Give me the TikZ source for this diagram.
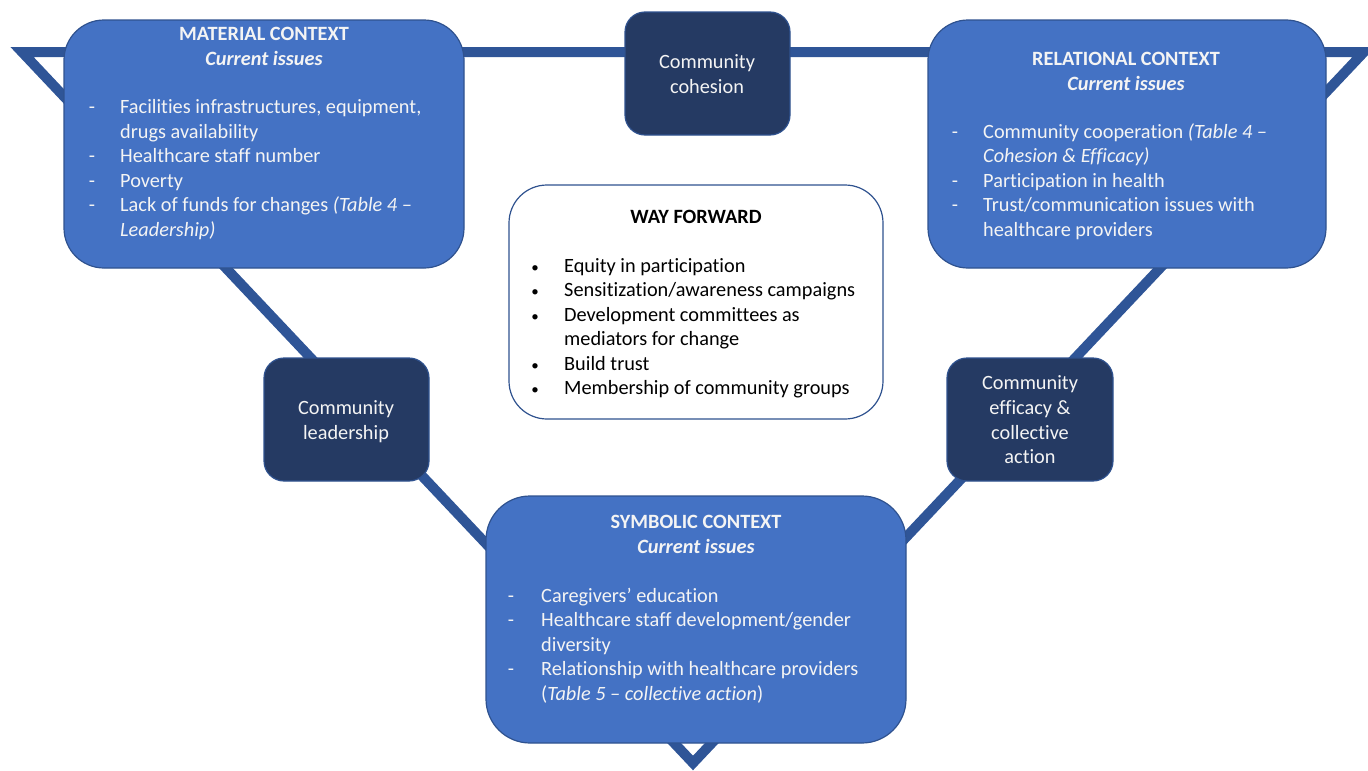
\documentclass[tikz,border=0pt]{standalone}
\usepackage{fontspec}
\setmainfont{Carlito}[Ligatures=NoCommon]
\definecolor{triblue}{HTML}{2F5597}
\definecolor{boxfill}{HTML}{4472C4}
\definecolor{boxline}{HTML}{2F528F}
\definecolor{darkfill}{HTML}{253A63}
\definecolor{txtwhite}{HTML}{F4F4F4}
\begin{document}
\begin{tikzpicture}[x=1pt,y=-1pt,
  tri/.style={draw=triblue,line width=10pt,line join=miter},
  ctx/.style={draw=boxline,fill=boxfill,line width=1.2pt,rounded corners=40pt},
  dark/.style={draw=boxline,fill=darkfill,line width=1.2pt,rounded corners=20pt},
  way/.style={draw=boxline,fill=white,line width=1.2pt,rounded corners=38pt},
  txt/.style={font=\fontsize{20.3}{24.5}\selectfont,text=txtwhite,inner sep=0pt},
  btxt/.style={font=\fontsize{20.3}{24.5}\selectfont,text=black,inner sep=0pt},
  ln/.style={txt,anchor=base west},
  bl/.style={btxt,anchor=base west},
  ttl/.style={txt,anchor=base,font=\fontsize{20.3}{24.5}\selectfont\bfseries},
  dsh/.style={txt,anchor=base},
  dot/.style={btxt,anchor=base,font=\fontsize{15}{18}\selectfont},
  dtxt/.style={txt,anchor=base}]
\useasboundingbox (0,0) rectangle (1368,771);
% triangle
\coordinate (tl) at (22,52);
\coordinate (tr) at (1364,52);
\coordinate (ap) at (693,763);
\draw[tri] (tl) -- (tr) -- (ap) -- cycle;
% boxes
\node[ctx,minimum width=400pt,minimum height=248pt] (mat) at (264,144) {};
\node[ctx,minimum width=398pt,minimum height=248pt] (rel) at (1127,144) {};
\node[ctx,minimum width=420pt,minimum height=247pt,rounded corners=44pt] (sym) at (696,619.5) {};
\node[dark,minimum width=165pt,minimum height=123pt] (coh) at (707.5,73.5) {};
\node[dark,minimum width=165pt,minimum height=123pt] (lead) at (346.5,419.5) {};
\node[dark,minimum width=166pt,minimum height=123pt] (eff) at (1030,419.5) {};
\node[way,minimum width=374pt,minimum height=234pt] (wf) at (696,302) {};
% material
\node[ttl] (matT) at (264,40) {MATERIAL CONTEXT};
\node[ttl] (matS) at (264,65) {\textit{Current issues}};
\node[dsh] (md1) at (92,113) {-};
\node[ln] (m1) at (120,113) {Facilities infrastructures, equipment,};
\node[ln] (m2) at (120,138) {drugs availability};
\node[dsh] (md2) at (92,162) {-};
\node[ln] (m3) at (120,162) {Healthcare staff number};
\node[dsh] (md3) at (92,187) {-};
\node[ln] (m4) at (120,187) {Poverty};
\node[dsh] (md4) at (92,211) {-};
\node[ln] (m5) at (120,211) {Lack of funds for changes \textit{(Table 4 –}};
\node[ln] (m6) at (120,236) {\textit{Leadership)}};
% relational
\node[ttl] (relT) at (1126,65) {RELATIONAL CONTEXT};
\node[ttl] (relS) at (1126,90) {\textit{Current issues}};
\node[dsh] (rd1) at (955,138) {-};
\node[ln] (r1) at (983,138) {Community cooperation \textit{(Table 4 –}};
\node[ln] (r2) at (983,162) {\textit{Cohesion \& Efficacy)}};
\node[dsh] (rd2) at (955,187) {-};
\node[ln] (r3) at (983,187) {Participation in health};
\node[dsh] (rd3) at (955,211) {-};
\node[ln] (r4) at (983,211) {Trust/communication issues with};
\node[ln] (r5) at (983,236) {healthcare providers};
% symbolic
\node[ttl] (symT) at (696,528) {SYMBOLIC CONTEXT};
\node[ttl] (symS) at (696,553) {\textit{Current issues}};
\node[dsh] (sd1) at (511,602) {-};
\node[ln] (s1) at (541,602) {Caregivers’ education};
\node[dsh] (sd2) at (511,626) {-};
\node[ln] (s2) at (541,626) {Healthcare staff development/gender};
\node[ln] (s3) at (541,651) {diversity};
\node[dsh] (sd3) at (511,675) {-};
\node[ln] (s4) at (541,675) {Relationship with healthcare providers};
\node[ln] (s5) at (541,700) {(\textit{Table 5 – collective action})};
% way forward
\node[btxt,anchor=base,font=\fontsize{20.3}{24.5}\selectfont\bfseries] (wfT) at (696,223) {WAY FORWARD};
\node[dot] (wb1) at (535,272) {•};
\node[bl] (w1) at (564,272) {Equity in participation};
\node[dot] (wb2) at (535,296) {•};
\node[bl] (w2) at (564,296) {Sensitization/awareness campaigns};
\node[dot] (wb3) at (535,321) {•};
\node[bl] (w3) at (564,321) {Development committees as};
\node[bl] (w4) at (564,345) {mediators for change};
\node[dot] (wb4) at (535,370) {•};
\node[bl] (w5) at (564,370) {Build trust};
\node[dot] (wb5) at (535,394) {•};
\node[bl] (w6) at (564,394) {Membership of community groups};
% dark boxes text
\node[dtxt] (c1) at (707,68) {Community};
\node[dtxt] (c2) at (707,93) {cohesion};
\node[dtxt] (l1) at (346,414) {Community};
\node[dtxt] (l2) at (346,439) {leadership};
\node[dtxt] (e1) at (1030,389) {Community};
\node[dtxt] (e2) at (1030,414) {efficacy \&};
\node[dtxt] (e3) at (1030,439) {collective};
\node[dtxt] (e4) at (1030,463) {action};
\end{tikzpicture}
\end{document}
